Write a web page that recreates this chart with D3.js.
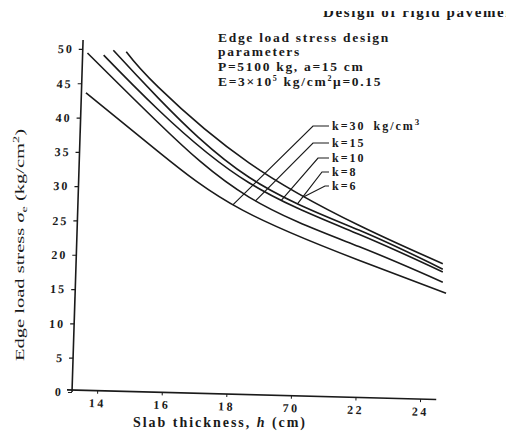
<!DOCTYPE html>
<html>
<head>
<meta charset="utf-8">
<script src="https://cdn.jsdelivr.net/npm/d3@7"></script>
<style>
  body { margin: 0; background: #fff; }
  svg { display: block; }
  text { font-family: "Liberation Serif", "DejaVu Serif", serif; fill: #1a1a1a; }
</style>
</head>
<body>
<svg id="chart" width="506" height="437"></svg>
<script>
// values: [slab thickness h (cm), edge stress (kg/cm2)]
const kValues = [6, 8, 10, 15, 30];
const curveK6 = [[14.9, 49.6], [15.9, 44.4], [18.7, 33.4], [22.1, 24.3], [24.7, 18.7]];
const curveK8 = [[14.5, 49.8], [15.9, 42.8], [18.7, 31.3], [22.1, 23.6], [24.7, 17.9]];
const curveK10 = [[14.2, 49.1], [15.9, 41.1], [18.7, 30.5], [22.1, 23.0], [24.7, 17.5]];
const curveK15 = [[13.7, 49.4], [15.9, 39.2], [18.7, 28.4], [22.1, 21.2], [24.7, 16.0]];
const curveK30 = [[13.65, 43.6], [15.9, 35.0], [18.5, 26.5], [22.1, 19.2], [24.8, 14.4]];
// where each leader line touches its curve (h, cm)
const leaderAt = [20.4, 20.2, 19.7, 18.9, 18.2];

const xTicks = [14, 16, 18, 20, 22, 24];
const xTickLabels = ["14", "16", "18", "70", "22", "24"]; // misprint kept as in scan
const yTicks = [0, 5, 10, 15, 20, 25, 30, 35, 40, 45, 50];

const curves = [curveK6, curveK8, curveK10, curveK15, curveK30];

const svg = d3.select("#chart");
const INK = "#1a1a1a";

// scales
const x0 = 72, y0 = 392;
const x = d3.scaleLinear().domain([13.22, 24.5]).range([x0, x0 + (24.5 - 13.22) * 32.3]);
const y = d3.scaleLinear().domain([0, 51.3]).range([y0, 40]);

// running title, cut off at top of the scan
svg.append("defs").append("clipPath").attr("id", "topclip")
    .append("rect").attr("x", 0).attr("y", 11).attr("width", 506).attr("height", 20);
svg.append("text")
    .attr("clip-path", "url(#topclip)")
    .attr("x", 323).attr("y", 17)
    .attr("font-size", 15).attr("font-weight", "bold")
    .attr("letter-spacing", 1.6)
    .attr("fill", "#555")
    .text("Design of rigid pavements");

// y axis (scan is slightly skewed)
const yAxisScale = y.copy().range([0, 40 - y0]);
const yAxisG = svg.append("g")
    .attr("transform", `translate(${x0},${y0}) skewX(-1.8)`)
    .call(d3.axisLeft(yAxisScale).tickValues(yTicks).tickSize(4).tickPadding(5));
yAxisG.select(".domain").attr("d", `M0,0V${40 - y0}`).attr("stroke", INK).attr("stroke-width", 1.6);
yAxisG.selectAll(".tick line").attr("stroke", INK).attr("stroke-width", 1.2);
yAxisG.selectAll(".tick text")
    .attr("font-family", "Liberation Serif").attr("font-weight", "bold")
    .attr("font-size", 12).attr("letter-spacing", 2).attr("fill", INK);

// x axis (slightly rotated)
const xAxisScale = x.copy().range([0, x.range()[1] - x0]);
const xAxisG = svg.append("g")
    .attr("transform", `translate(${x0},${y0 - 2}) rotate(1.5)`)
    .call(d3.axisBottom(xAxisScale).tickValues(xTicks)
        .tickFormat((d, i) => xTickLabels[i]).tickSize(3).tickPadding(5));
xAxisG.select(".domain").attr("d", `M-5,0H${x.range()[1] - x0}`).attr("stroke", INK).attr("stroke-width", 1.6);
xAxisG.selectAll(".tick line").attr("stroke", INK);
xAxisG.selectAll(".tick text")
    .attr("font-family", "Liberation Serif").attr("font-weight", "bold")
    .attr("font-size", 12).attr("letter-spacing", 2.5).attr("fill", INK);

// axis titles
svg.append("text")
    .attr("x", 133).attr("y", 427)
    .attr("font-size", 14).attr("font-weight", "bold")
    .attr("textLength", 172).attr("lengthAdjust", "spacing")
    .html('Slab thickness, <tspan font-style="italic">h</tspan> (cm)');

svg.append("text")
    .attr("transform", "translate(24,245) rotate(-90)")
    .attr("text-anchor", "middle")
    .attr("font-size", 13)
    .attr("textLength", 232).attr("lengthAdjust", "spacingAndGlyphs")
    .html('Edge load stress <tspan font-style="italic">σ</tspan><tspan font-size="9" dy="3">e</tspan><tspan dy="-3"> (kg/cm</tspan><tspan font-size="9" dy="-5">2</tspan><tspan dy="5">)</tspan>');

// curves
const line = d3.line()
    .x(d => x(d[0]))
    .y(d => y(d[1]))
    .curve(d3.curveNatural);

const paths = svg.append("g").attr("class", "curves")
    .selectAll("path")
    .data(curves)
    .join("path")
        .attr("d", line)
        .attr("fill", "none")
        .attr("stroke", INK)
        .attr("stroke-width", 1.6);

// point on a drawn curve at given pixel x
function pointAtX(pathNode, px){
    let lo = 0, hi = pathNode.getTotalLength();
    for(let n = 0; n < 40; n++){
        const mid = (lo + hi) / 2;
        if(pathNode.getPointAtLength(mid).x < px){ lo = mid; } else { hi = mid; }
    }
    return pathNode.getPointAtLength(lo);
}

// parameter note
const note = svg.append("g").attr("font-weight", "bold").attr("font-size", 13.5).attr("letter-spacing", 1.7);
note.append("text").attr("x", 218).attr("y", 42).text("Edge load stress design");
note.append("text").attr("x", 218).attr("y", 56).text("parameters");
note.append("text").attr("x", 218).attr("y", 71).text("P=5100 kg, a=15 cm");
note.append("text").attr("x", 218).attr("y", 86)
    .html('E=3×10<tspan font-size="8" dy="-5">5</tspan><tspan dy="5"> kg/cm</tspan><tspan font-size="8" dy="-5">2</tspan><tspan dy="5">μ=0.15</tspan>');

// k labels with leader lines
const labelY = [190, 176, 162, 147, 130];
const kneeX = [325, 322, 318, 313, 313];
const labelX = 332;

const labelsG = svg.append("g").attr("class", "k-labels");
paths.each(function(d, i){
    const end = pointAtX(this, x(leaderAt[i]));
    const knee = [kneeX[i], labelY[i] - 4];
    labelsG.append("path")
        .attr("d", `M${labelX - 3},${knee[1]}H${knee[0]}L${end.x},${end.y}`)
        .attr("fill", "none")
        .attr("stroke", INK)
        .attr("stroke-width", 1.2);
    const t = labelsG.append("text")
        .attr("x", labelX).attr("y", labelY[i])
        .attr("font-size", 12).attr("font-weight", "bold").attr("letter-spacing", 2)
        .text(`k=${kValues[i]}`);
    if(kValues[i] === 30){
        t.append("tspan").attr("dx", 8).text("kg/cm");
        t.append("tspan").attr("font-size", 9).attr("dy", -5).text("3");
    }
});
</script>
</body>
</html>
